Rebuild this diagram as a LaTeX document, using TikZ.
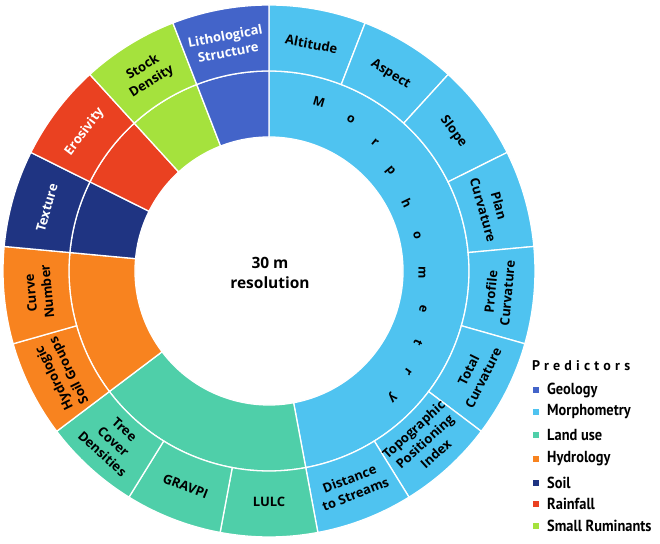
\documentclass[tikz,border=0pt]{standalone}
\usepackage{fontspec}
\setmainfont{Open Sans}
\newfontfamily\legfont[FakeStretch=0.9]{PT Sans}
\newfontfamily\legtitle[LetterSpace=30]{PT Sans}
\definecolor{cGeo}{HTML}{4364C9}
\definecolor{cMor}{HTML}{4FC3F0}
\definecolor{cLand}{HTML}{4FCFA9}
\definecolor{cHyd}{HTML}{F8831F}
\definecolor{cSoil}{HTML}{1F3482}
\definecolor{cRain}{HTML}{EA4121}
\definecolor{cRum}{HTML}{A5E23D}
\newcommand\wedgefill[5]{%
  \fill[#1, draw=white, line width=1.3pt] (#2:#4pt) arc[start angle=#2, end angle=#3, radius=#4pt]
     -- (#3:#5pt) arc[start angle=#3, end angle=#2, radius=#5pt] -- cycle;}
\tikzset{
  lab/.style={font=\fontsize{13}{16.5}\selectfont\bfseries, align=center, inner sep=0pt, text=black},
  labw/.style={lab, text=white},
  letter/.style={font=\fontsize{12.5}{14}\selectfont\bfseries, inner sep=0pt},
  legtxt/.style={font=\fontsize{16}{18}\selectfont\legfont\bfseries, anchor=west, inner sep=0pt},
  legsq/.style={minimum size=6pt, inner sep=0pt},
}
\begin{document}
\begin{tikzpicture}[x=1pt,y=1pt]
\useasboundingbox (-269,-272) rectangle (391,271);
% inner ring
\wedgefill{cMor}{90}{-79.4118}{134}{200}
\wedgefill{cLand}{-79.4118}{-142.9412}{134}{200}
\wedgefill{cHyd}{-142.9412}{-185.2941}{134}{200}
\wedgefill{cSoil}{-185.2941}{-206.4706}{134}{200}
\wedgefill{cRain}{-206.4706}{-227.6471}{134}{200}
\wedgefill{cRum}{-227.6471}{-248.8235}{134}{200}
\wedgefill{cGeo}{-248.8235}{-270}{134}{200}
% outer ring
\foreach \i/\c in {0/cMor,1/cMor,2/cMor,3/cMor,4/cMor,5/cMor,6/cMor,7/cMor,8/cLand,9/cLand,10/cLand,11/cHyd,12/cHyd,13/cSoil,14/cRain,15/cRum,16/cGeo}{
  \pgfmathsetmacro\aa{90-\i*360/17}
  \pgfmathsetmacro\bb{90-(\i+1)*360/17}
  \wedgefill{\c}{\aa}{\bb}{200}{266}
}
% outer labels
\node[lab, rotate=-10.59] (altitude) at (79.41:231pt) {Altitude};
\node[lab, rotate=-31.76] (aspect) at (58.24:231pt) {Aspect};
\node[lab, rotate=-52.94] (slope) at (37.06:231pt) {Slope};
\node[lab, rotate=-74.12] (plan) at (15.88:231pt) {Plan\\Curvature};
\node[lab, rotate=84.71] (profile) at (-5.29:231pt) {Profile\\Curvature};
\node[lab, rotate=63.53] (total) at (-26.47:231pt) {Total\\Curvature};
\node[lab, rotate=42.35] (tpi) at (-47.65:231pt) {Topographic\\Positioning\\Index};
\node[lab, rotate=21.18] (dist) at (-68.82:231pt) {Distance\\to Streams};
\node[lab, rotate=0] (lulc) at (-90:231pt) {LULC};
\node[lab, rotate=-21.18] (gravpi) at (-111.18:231pt) {GRAVPI};
\node[lab, rotate=-42.35] (tree) at (-132.35:231pt) {Tree\\Cover\\Densities};
\node[lab, rotate=116.47] (hsg) at (206.47:231pt) {Hydrologic\\Soil Groups};
\node[lab, rotate=95.29] (cn) at (185.29:231pt) {Curve\\Number};
\node[labw, rotate=74.12] (texture) at (164.12:231pt) {Texture};
\node[labw, rotate=52.94] (eros) at (142.94:231pt) {Erosivity};
\node[lab, rotate=31.76] (stock) at (121.76:231pt) {Stock\\Density};
\node[labw, rotate=10.59] (litho) at (100.59:231pt) {Lithological\\Structure};
% inner letters
\node[letter, rotate=-16.5] (m1) at (50,169) {M};
\node[letter, rotate=-28.4] (m2) at (82,152) {o};
\node[letter, rotate=-39.6] (m3) at (106,128) {r};
\node[letter, rotate=-50.4] (m4) at (121,100) {p};
\node[letter, rotate=-63.8] (m5) at (138,68) {h};
\node[letter, rotate=-76.3] (m6) at (148,36) {o};
\node[letter, rotate=-90.7] (m7) at (153,-2) {m};
\node[letter, rotate=-103.9] (m8) at (154,-38) {e};
\node[letter, rotate=-115.8] (m9) at (149,-72) {t};
\node[letter, rotate=-126] (m10) at (139,-101) {r};
\node[letter, rotate=-135.7] (m11) at (123,-126) {y};
% center
\node[font=\fontsize{15.5}{20}\selectfont\bfseries, align=center] (res) at (1,-2) {30 m\\resolution};
% legend
\node[font=\fontsize{14}{16}\selectfont\legtitle\bfseries, anchor=west, inner sep=0pt] (legtitle) at (263,-95) {Predictors};
\foreach \n/\c/\t/\y in {geo/cGeo/Geology/-119, mor/cMor/Morphometry/-141, land/cLand/Land use/-164, hyd/cHyd/Hydrology/-188, soil/cSoil/Soil/-212, rain/cRain/Rainfall/-233, rum/cRum/Small Ruminants/-255}{
  \node[legsq, fill=\c] (sq\n) at (267,\y) {};
  \node[legtxt] (lt\n) at (278,\y) {\t};
}
\end{tikzpicture}
\end{document}
